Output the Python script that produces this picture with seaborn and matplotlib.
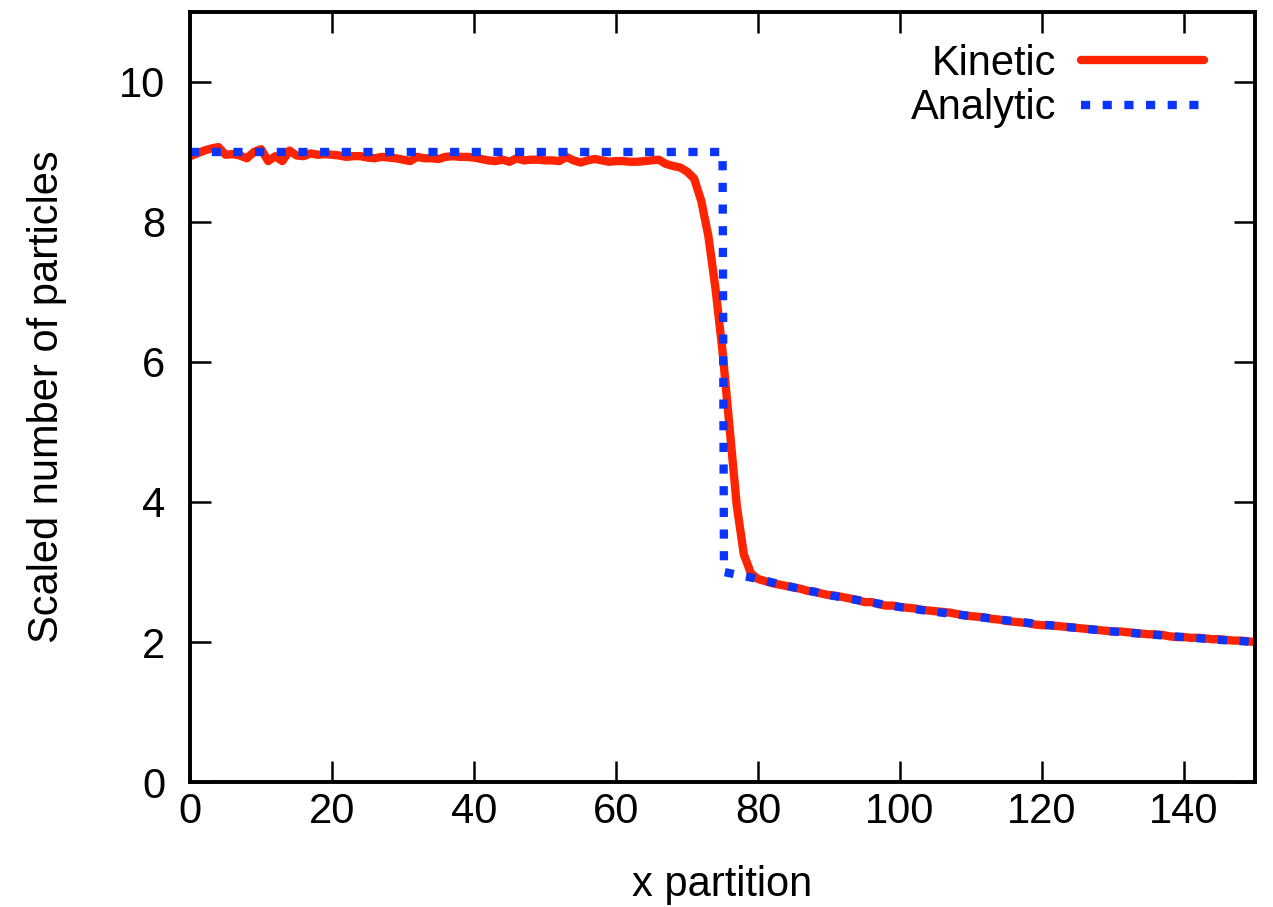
import numpy as np
import pandas as pd
import matplotlib
matplotlib.use("Agg")
import matplotlib.pyplot as plt
import seaborn as sns

# Kinetic simulation: scaled particle count per x partition (0..150)
kinetic_x = list(range(0, 151))
kinetic_y = [
    8.94, 8.98, 9.02, 9.05, 9.07, 8.96, 8.97, 8.95, 8.91, 9.00,
    9.04, 8.87, 8.94, 8.87, 9.02, 8.95, 8.94, 8.98, 8.96, 8.97,
    8.96, 8.95, 8.93, 8.94, 8.94, 8.92, 8.91, 8.93, 8.92, 8.91,
    8.89, 8.87, 8.93, 8.91, 8.91, 8.90, 8.93, 8.94, 8.93, 8.93,
    8.92, 8.90, 8.88, 8.87, 8.89, 8.86, 8.91, 8.88, 8.89, 8.89,
    8.88, 8.88, 8.87, 8.93, 8.88, 8.85, 8.88, 8.90, 8.88, 8.86,
    8.87, 8.87, 8.86, 8.86, 8.87, 8.88, 8.89, 8.83, 8.80, 8.78,
    8.72, 8.62, 8.30, 7.80, 7.05, 6.15, 5.05, 3.95, 3.25, 2.98,
    2.90, 2.87, 2.84, 2.82, 2.80, 2.78, 2.76, 2.73, 2.72, 2.69,
    2.67, 2.66, 2.64, 2.62, 2.60, 2.57, 2.57, 2.54, 2.52, 2.52,
    2.50, 2.49, 2.48, 2.46, 2.45, 2.44, 2.43, 2.42, 2.40, 2.38,
    2.37, 2.36, 2.35, 2.33, 2.32, 2.30, 2.29, 2.28, 2.27, 2.25,
    2.24, 2.24, 2.23, 2.22, 2.21, 2.20, 2.19, 2.18, 2.17, 2.16,
    2.15, 2.15, 2.14, 2.13, 2.12, 2.11, 2.11, 2.10, 2.08, 2.07,
    2.07, 2.06, 2.06, 2.05, 2.04, 2.04, 2.03, 2.02, 2.02, 2.01,
    2.00,
]

# Analytic solution: plateau, shock at x = 75, then rarefaction tail
analytic_x = [0, 75, 75.2, 80, 85, 90, 95, 100, 105, 110, 115,
              120, 125, 130, 135, 140, 145, 150]
analytic_y = [9.0, 9.0, 3.0, 2.90, 2.78, 2.67, 2.58, 2.50, 2.43, 2.37, 2.31,
              2.25, 2.20, 2.15, 2.11, 2.07, 2.03, 2.00]

x_ticks = [0, 20, 40, 60, 80, 100, 120, 140]
y_ticks = [0, 2, 4, 6, 8, 10]

sns.set_theme(style="ticks")
plt.rcParams["font.family"] = ["Liberation Sans", "DejaVu Sans"]
plt.rcParams["text.color"] = "black"
plt.rcParams["axes.labelcolor"] = "black"
FS = 30

fig = plt.figure(figsize=(12.73, 9.07), dpi=100)
ax = fig.add_axes([0.1493, 0.1378, 0.8366, 0.849])

kin = pd.DataFrame({"x": kinetic_x, "y": kinetic_y})
ana = pd.DataFrame({"x": analytic_x, "y": analytic_y})

sns.lineplot(data=kin, x="x", y="y", ax=ax, color="#ff2400", linewidth=6.0,
             estimator=None, sort=False, label="Kinetic",
             solid_joinstyle="round")
sns.lineplot(data=ana, x="x", y="y", ax=ax, color="#0a35ff", linewidth=6.0,
             estimator=None, sort=False, label="Analytic",
             linestyle=(0, (1.1, 1.5)), dash_capstyle="butt")

ax.set_xlim(0, 150)
ax.set_ylim(0, 11)
ax.set_xticks(x_ticks)
ax.set_yticks(y_ticks)
ax.set_xlabel("x partition", fontsize=FS, labelpad=24, color="black")
ax.set_ylabel("Scaled number of particles", fontsize=FS, labelpad=37,
              color="black")

for side in ["top", "right", "bottom", "left"]:
    ax.spines[side].set_visible(True)
    ax.spines[side].set_linewidth(2.8)
    ax.spines[side].set_color("black")

ax.tick_params(axis="both", which="major", direction="in", length=15,
               width=1.8, labelsize=FS, top=True, right=True,
               color="black", labelcolor="black")
ax.tick_params(axis="x", pad=7)
ax.tick_params(axis="y", pad=18)

leg = ax.legend(loc="upper right", bbox_to_anchor=(0.968, 0.98),
                frameon=False, markerfirst=False, handlelength=2.95,
                handletextpad=0.6, labelspacing=0.1, fontsize=FS,
                borderaxespad=0.0)

fig.savefig("out.png", dpi=100, facecolor="white")
